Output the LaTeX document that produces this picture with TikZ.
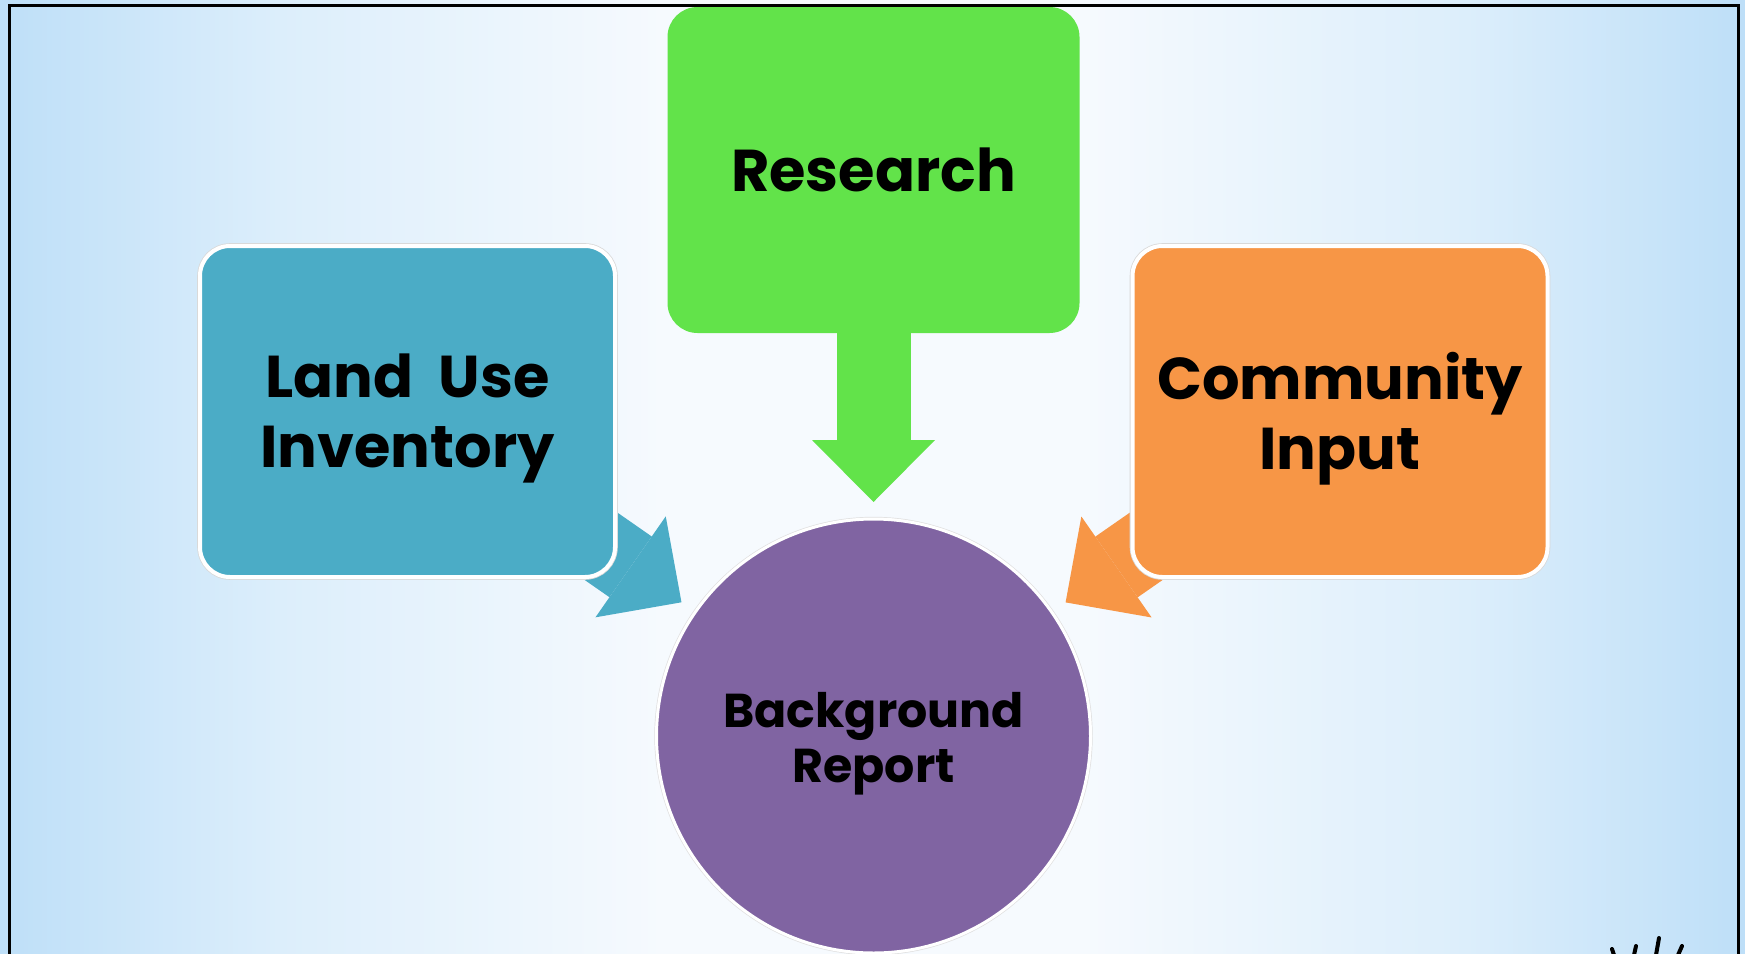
\documentclass[tikz,border=0pt]{standalone}
\usepackage{fontspec}
\setmainfont{Poppins}
\usetikzlibrary{arrows.meta,fadings}

\definecolor{skyedge}{HTML}{BEDFF8}
\definecolor{skymid}{HTML}{DCEEFB}
\definecolor{skylight}{HTML}{F6FAFE}
\definecolor{leafgreen}{HTML}{62E34A}
\definecolor{aqua}{HTML}{4BACC6}
\definecolor{tangerine}{HTML}{F79646}
\definecolor{plum}{HTML}{8064A2}

% sky backdrop: blue at the sides, almost white in the middle
\pgfdeclarehorizontalshading{skyshade}{100bp}{%
  color(0bp)=(skyedge); color(25bp)=(skyedge); color(33bp)=(skymid);
  color(44bp)=(skylight); color(56bp)=(skylight); color(67bp)=(skymid);
  color(75bp)=(skyedge); color(100bp)=(skyedge)}
\pgfdeclarehorizontalshading{bandshade}{100bp}{%
  color(0bp)=(skyedge); color(25bp)=(skyedge); color(40bp)=(skylight);
  color(60bp)=(skylight); color(75bp)=(skyedge); color(100bp)=(skyedge)}
\tikzfading[name=bandfade, top color=transparent!100,
  middle color=transparent!20, bottom color=transparent!100]

\pgfdeclarelayer{sky}
\pgfdeclarelayer{links}
\pgfsetlayers{sky,links,main}

\begin{document}
\begin{tikzpicture}[x=0.5pt, y=-0.5pt,
  panel/.style={rectangle, rounded corners=15pt, inner sep=0pt, outer sep=0pt,
    minimum width=207.5pt, minimum height=165.5pt,
    draw=white, line width=2pt, preaction={draw=black!15, line width=2.8pt}},
  topbox/.style={rectangle, rounded corners=15pt, inner sep=0pt, outer sep=0pt,
    minimum width=206pt, minimum height=163pt, fill=leafgreen},
  hub/.style={circle, inner sep=0pt, outer sep=0pt, minimum size=217pt,
    fill=plum, draw=white, line width=1.5pt,
    preaction={draw=black!12, line width=2.2pt}},
  boxtext/.style={font=\bfseries\fontsize{29.5}{35}\selectfont, align=center,
    text=black, inner sep=0pt},
  hubtext/.style={font=\bfseries\fontsize{23.75}{27.5}\selectfont, align=center,
    text=black, inner sep=0pt},
  link/.style={line width=37pt,
    -{Triangle[length=31pt, width=61.5pt, line width=0pt]}, shorten >=8.5pt}]

\clip (0,0) rectangle (1745,953);

% backdrop and frame
\begin{pgfonlayer}{sky}
  \shade[shading=skyshade, shading angle=0] (0,0) rectangle (1745,953);
  \shade[shading=bandshade, shading angle=0, path fading=bandfade]
    (0,505) rectangle (1745,560);
  \shade[shading=bandshade, shading angle=0, path fading=bandfade]
    (0,605) rectangle (1745,665);
  \draw[line width=1.5pt] (9,5) rectangle (1738,1000);
  % strokes of a sketch peeking in at the lower right
  \draw[line width=2pt, line cap=round]
    (1612,949) -- (1614,955)
    (1636,946) -- (1634,955)
    (1659,938) -- (1656,955)
    (1682,946) -- (1678,955);
\end{pgfonlayer}

% the four stages
\node[topbox] (research) at (873.5,170) {};
\node[panel, fill=aqua] (land) at (407.5,411.5) {};
\node[panel, fill=tangerine] (community) at (1340,411.5) {};
\node[hub] (report) at (873.5,736) {};

\node[boxtext] (researchtext) at (research) {Research};
\node[boxtext, yshift=-3.5pt] (landtext) at (land) {Land~~Use\\Inventory};
\node[boxtext, yshift=-3.5pt] (communitytext) at (community) {Community\\Input};
\node[hubtext, yshift=-3.9pt] (reporttext) at (report) {Background\\Report};

% block arrows feeding the report
\begin{pgfonlayer}{links}
  \draw[link, color=leafgreen] (research.center) -- (report);
  \draw[link, color=aqua] (land.center) -- (report);
  \draw[link, color=tangerine] (community.center) -- (report);
\end{pgfonlayer}
\end{tikzpicture}
\end{document}
